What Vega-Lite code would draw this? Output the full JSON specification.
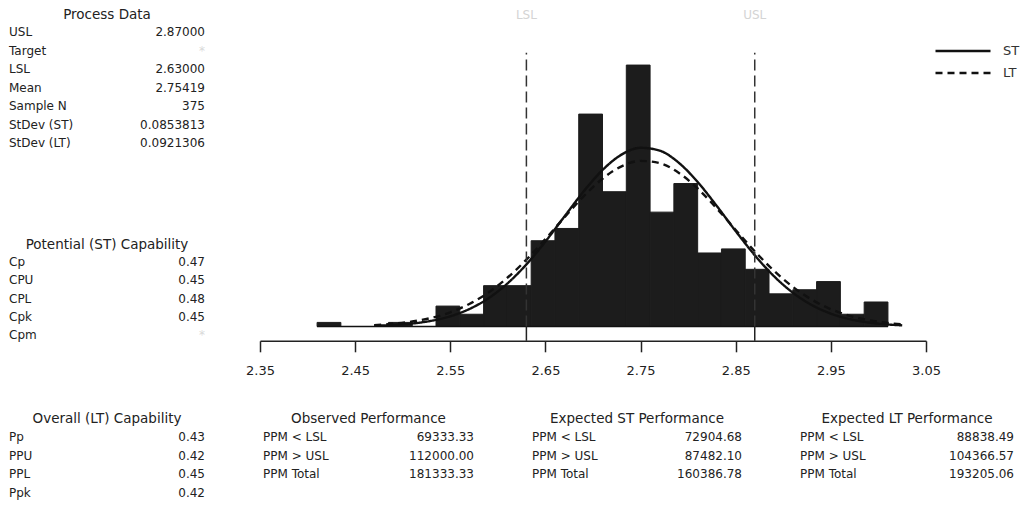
{
  "$schema": "https://vega.github.io/schema/vega-lite/v6.json",
  "background": "white",
  "padding": {"left": 9, "top": 7, "right": 0, "bottom": 0},
  "spacing": 33.5,
  "datasets": {
    "bins": [
      {"bin_start": 2.410, "bin_end": 2.435, "count": 1},
      {"bin_start": 2.435, "bin_end": 2.460, "count": 0},
      {"bin_start": 2.460, "bin_end": 2.485, "count": 0},
      {"bin_start": 2.485, "bin_end": 2.510, "count": 1},
      {"bin_start": 2.510, "bin_end": 2.535, "count": 0},
      {"bin_start": 2.535, "bin_end": 2.560, "count": 5},
      {"bin_start": 2.560, "bin_end": 2.585, "count": 3},
      {"bin_start": 2.585, "bin_end": 2.610, "count": 10},
      {"bin_start": 2.610, "bin_end": 2.635, "count": 10},
      {"bin_start": 2.635, "bin_end": 2.660, "count": 21},
      {"bin_start": 2.660, "bin_end": 2.685, "count": 24},
      {"bin_start": 2.685, "bin_end": 2.710, "count": 52},
      {"bin_start": 2.710, "bin_end": 2.735, "count": 33},
      {"bin_start": 2.735, "bin_end": 2.760, "count": 64},
      {"bin_start": 2.760, "bin_end": 2.785, "count": 28},
      {"bin_start": 2.785, "bin_end": 2.810, "count": 35},
      {"bin_start": 2.810, "bin_end": 2.835, "count": 18},
      {"bin_start": 2.835, "bin_end": 2.860, "count": 19},
      {"bin_start": 2.860, "bin_end": 2.885, "count": 14},
      {"bin_start": 2.885, "bin_end": 2.910, "count": 8},
      {"bin_start": 2.910, "bin_end": 2.935, "count": 9},
      {"bin_start": 2.935, "bin_end": 2.960, "count": 11},
      {"bin_start": 2.960, "bin_end": 2.985, "count": 3},
      {"bin_start": 2.985, "bin_end": 3.010, "count": 6}
    ],
    "fit": [
      {"x": 2.47, "ST": 0.172, "LT": 0.348},
      {"x": 2.49, "ST": 0.365, "LT": 0.665},
      {"x": 2.51, "ST": 0.733, "LT": 1.211},
      {"x": 2.53, "ST": 1.395, "LT": 2.102},
      {"x": 2.55, "ST": 2.509, "LT": 3.482},
      {"x": 2.57, "ST": 4.274, "LT": 5.503},
      {"x": 2.59, "ST": 6.894, "LT": 8.295},
      {"x": 2.61, "ST": 10.524, "LT": 11.928},
      {"x": 2.63, "ST": 15.208, "LT": 16.365},
      {"x": 2.65, "ST": 20.803, "LT": 21.416},
      {"x": 2.67, "ST": 26.941, "LT": 26.740},
      {"x": 2.69, "ST": 33.022, "LT": 31.847},
      {"x": 2.71, "ST": 38.314, "LT": 36.185},
      {"x": 2.73, "ST": 42.081, "LT": 39.219},
      {"x": 2.75, "ST": 43.751, "LT": 40.553},
      {"x": 2.77, "ST": 43.059, "LT": 40.002},
      {"x": 2.79, "ST": 40.116, "LT": 37.641},
      {"x": 2.81, "ST": 35.378, "LT": 33.790},
      {"x": 2.83, "ST": 29.534, "LT": 28.937},
      {"x": 2.85, "ST": 23.340, "LT": 23.639},
      {"x": 2.87, "ST": 17.459, "LT": 18.424},
      {"x": 2.89, "ST": 12.363, "LT": 13.697},
      {"x": 2.91, "ST": 8.287, "LT": 9.713},
      {"x": 2.93, "ST": 5.258, "LT": 6.572},
      {"x": 2.95, "ST": 3.158, "LT": 4.242},
      {"x": 2.97, "ST": 1.796, "LT": 2.612},
      {"x": 2.99, "ST": 0.967, "LT": 1.534},
      {"x": 3.01, "ST": 0.492, "LT": 0.860},
      {"x": 3.025, "ST": 0.286, "LT": 0.540}
    ],
    "limits": [
      {"limit": "LSL", "value": 2.63},
      {"limit": "USL", "value": 2.87}
    ]
  },
  "vconcat": [
    {
      "spacing": 40,
      "hconcat": [
        {
          "spacing": 84,
          "vconcat": [
            {
              "width": 196,
              "height": 129.5,
              "title": "Process Data",
              "data": {"values": [
                {"label": "USL", "value": "2.87000"},
                {"label": "Target", "value": "*"},
                {"label": "LSL", "value": "2.63000"},
                {"label": "Mean", "value": "2.75419"},
                {"label": "Sample N", "value": "375"},
                {"label": "StDev (ST)", "value": "0.0853813"},
                {"label": "StDev (LT)", "value": "0.0921306"}
              ]},
              "encoding": {"y": {"field": "label", "type": "nominal", "sort": null, "axis": null, "scale": {"type": "point", "padding": 0.5}}},
              "layer": [
                {"mark": {"type": "text", "align": "left", "baseline": "middle"},
                 "encoding": {"x": {"datum": 0, "type": "quantitative", "scale": {"domain": [0, 1]}, "axis": null}, "text": {"field": "label"}}},
                {"mark": {"type": "text", "align": "right", "baseline": "middle"},
                 "encoding": {"x": {"datum": 1, "type": "quantitative", "scale": {"domain": [0, 1]}, "axis": null}, "text": {"field": "value"},
                   "color": {"condition": {"test": "datum.value === '*'", "value": "#d9d9d9"}, "value": "#222222"}}}
              ]
            },
            {
              "width": 196,
              "height": 91.25,
              "title": "Potential (ST) Capability",
              "data": {"values": [
                {"label": "Cp", "value": "0.47"},
                {"label": "CPU", "value": "0.45"},
                {"label": "CPL", "value": "0.48"},
                {"label": "Cpk", "value": "0.45"},
                {"label": "Cpm", "value": "*"}
              ]},
              "encoding": {"y": {"field": "label", "type": "nominal", "sort": null, "axis": null, "scale": {"type": "point", "padding": 0.5}}},
              "layer": [
                {"mark": {"type": "text", "align": "left", "baseline": "middle"},
                 "encoding": {"x": {"datum": 0, "type": "quantitative", "scale": {"domain": [0, 1]}, "axis": null}, "text": {"field": "label"}}},
                {"mark": {"type": "text", "align": "right", "baseline": "middle"},
                 "encoding": {"x": {"datum": 1, "type": "quantitative", "scale": {"domain": [0, 1]}, "axis": null}, "text": {"field": "value"},
                   "color": {"condition": {"test": "datum.value === '*'", "value": "#d9d9d9"}, "value": "#222222"}}}
              ]
            }
          ]
        },
        {
          "width": 666,
          "height": 317.8,
          "layer": [
            {
              "data": {"name": "bins"},
              "mark": {"type": "bar", "color": "#1c1c1c", "stroke": "#1c1c1c", "strokeWidth": 1},
              "encoding": {
                "x": {"field": "bin_start", "type": "quantitative",
                  "scale": {"domain": [2.35, 3.05], "nice": false, "zero": false},
                  "axis": {"values": [2.35, 2.45, 2.55, 2.65, 2.75, 2.85, 2.95, 3.05], "format": ".2f", "title": null, "grid": false,
                    "domainColor": "#222222", "domainWidth": 1.5, "tickColor": "#222222", "tickWidth": 1.5, "tickSize": 11,
                    "labelFontSize": 13, "labelColor": "#222222", "labelPadding": 13, "labelFont": "DejaVu Sans",
                    "labelFlush": false, "labelOverlap": false}},
                "x2": {"field": "bin_end"},
                "y": {"field": "count", "type": "quantitative", "scale": {"domain": [-3.5, 74.3], "nice": false, "zero": false}, "axis": null},
                "y2": {"datum": 0}
              }
            },
            {
              "data": {"name": "bins"},
              "mark": {"type": "rule", "color": "#111111", "strokeWidth": 1.5},
              "encoding": {
                "x": {"aggregate": "min", "field": "bin_start", "type": "quantitative"},
                "x2": {"aggregate": "max", "field": "bin_end"},
                "y": {"datum": 0, "type": "quantitative"}
              }
            },
            {
              "data": {"name": "fit"},
              "transform": [{"fold": ["ST", "LT"], "as": ["fit", "density"]}],
              "mark": {"type": "line", "color": "#111111", "strokeWidth": 2.4, "interpolate": "monotone"},
              "encoding": {
                "x": {"field": "x", "type": "quantitative"},
                "y": {"field": "density", "type": "quantitative"},
                "strokeDash": {"field": "fit", "type": "nominal",
                  "scale": {"domain": ["ST", "LT"], "range": [[1, 0], [7, 5]]},
                  "legend": {"title": null, "orient": "none", "legendX": 969, "legendY": 21,
                    "symbolType": "M-9,0H1", "symbolSize": 121, "symbolStrokeWidth": 2.5, "symbolStrokeColor": "#111111",
                    "labelFontSize": 13, "labelColor": "#333333", "labelFont": "DejaVu Sans", "labelOffset": 11,
                    "rowPadding": 8, "padding": 0}}
              }
            },
            {
              "data": {"name": "limits"},
              "mark": {"type": "rule", "color": "#333333", "strokeWidth": 1.5, "strokeDash": [11, 5]},
              "encoding": {
                "x": {"field": "value", "type": "quantitative"},
                "y": {"datum": 0, "type": "quantitative"},
                "y2": {"datum": 67}
              }
            },
            {
              "data": {"name": "limits"},
              "mark": {"type": "rule", "color": "#222222", "strokeWidth": 1.5},
              "encoding": {
                "x": {"field": "value", "type": "quantitative"},
                "y": {"datum": 0, "type": "quantitative"},
                "y2": {"datum": -3.5}
              }
            },
            {
              "data": {"name": "limits"},
              "mark": {"type": "text", "color": "#d4d4d4", "fontSize": 12, "baseline": "middle"},
              "encoding": {
                "x": {"field": "value", "type": "quantitative"},
                "y": {"datum": 76.3, "type": "quantitative"},
                "text": {"field": "limit"}
              }
            }
          ]
        }
      ]
    },
    {
      "spacing": 58,
      "hconcat": [
        {
          "width": 196,
          "height": 74.7,
          "title": "Overall (LT) Capability",
          "data": {"values": [
            {"label": "Pp", "value": "0.43"},
            {"label": "PPU", "value": "0.42"},
            {"label": "PPL", "value": "0.45"},
            {"label": "Ppk", "value": "0.42"}
          ]},
          "encoding": {"y": {"field": "label", "type": "nominal", "sort": null, "axis": null, "scale": {"type": "point", "padding": 0.5}}},
          "layer": [
            {"mark": {"type": "text", "align": "left", "baseline": "middle"},
             "encoding": {"x": {"datum": 0, "type": "quantitative", "scale": {"domain": [0, 1]}, "axis": null}, "text": {"field": "label"}}},
            {"mark": {"type": "text", "align": "right", "baseline": "middle"},
             "encoding": {"x": {"datum": 1, "type": "quantitative", "scale": {"domain": [0, 1]}, "axis": null}, "text": {"field": "value"}}}
          ]
        },
        {
          "width": 211,
          "height": 56,
          "title": "Observed Performance",
          "data": {"values": [
            {"label": "PPM < LSL", "value": "69333.33"},
            {"label": "PPM > USL", "value": "112000.00"},
            {"label": "PPM Total", "value": "181333.33"}
          ]},
          "encoding": {"y": {"field": "label", "type": "nominal", "sort": null, "axis": null, "scale": {"type": "point", "padding": 0.5}}},
          "layer": [
            {"mark": {"type": "text", "align": "left", "baseline": "middle"},
             "encoding": {"x": {"datum": 0, "type": "quantitative", "scale": {"domain": [0, 1]}, "axis": null}, "text": {"field": "label"}}},
            {"mark": {"type": "text", "align": "right", "baseline": "middle"},
             "encoding": {"x": {"datum": 1, "type": "quantitative", "scale": {"domain": [0, 1]}, "axis": null}, "text": {"field": "value"}}}
          ]
        },
        {
          "width": 210,
          "height": 56,
          "title": "Expected ST Performance",
          "data": {"values": [
            {"label": "PPM < LSL", "value": "72904.68"},
            {"label": "PPM > USL", "value": "87482.10"},
            {"label": "PPM Total", "value": "160386.78"}
          ]},
          "encoding": {"y": {"field": "label", "type": "nominal", "sort": null, "axis": null, "scale": {"type": "point", "padding": 0.5}}},
          "layer": [
            {"mark": {"type": "text", "align": "left", "baseline": "middle"},
             "encoding": {"x": {"datum": 0, "type": "quantitative", "scale": {"domain": [0, 1]}, "axis": null}, "text": {"field": "label"}}},
            {"mark": {"type": "text", "align": "right", "baseline": "middle"},
             "encoding": {"x": {"datum": 1, "type": "quantitative", "scale": {"domain": [0, 1]}, "axis": null}, "text": {"field": "value"}}}
          ]
        },
        {
          "width": 214,
          "height": 56,
          "title": "Expected LT Performance",
          "data": {"values": [
            {"label": "PPM < LSL", "value": "88838.49"},
            {"label": "PPM > USL", "value": "104366.57"},
            {"label": "PPM Total", "value": "193205.06"}
          ]},
          "encoding": {"y": {"field": "label", "type": "nominal", "sort": null, "axis": null, "scale": {"type": "point", "padding": 0.5}}},
          "layer": [
            {"mark": {"type": "text", "align": "left", "baseline": "middle"},
             "encoding": {"x": {"datum": 0, "type": "quantitative", "scale": {"domain": [0, 1]}, "axis": null}, "text": {"field": "label"}}},
            {"mark": {"type": "text", "align": "right", "baseline": "middle"},
             "encoding": {"x": {"datum": 1, "type": "quantitative", "scale": {"domain": [0, 1]}, "axis": null}, "text": {"field": "value"}}}
          ]
        }
      ]
    }
  ],
  "config": {
    "view": {"stroke": null},
    "font": "DejaVu Sans",
    "text": {"font": "DejaVu Sans", "fontSize": 12, "color": "#222222"},
    "title": {"font": "DejaVu Sans", "fontSize": 13.5, "fontWeight": "normal", "color": "#222222", "anchor": "middle", "offset": 2}
  }
}
